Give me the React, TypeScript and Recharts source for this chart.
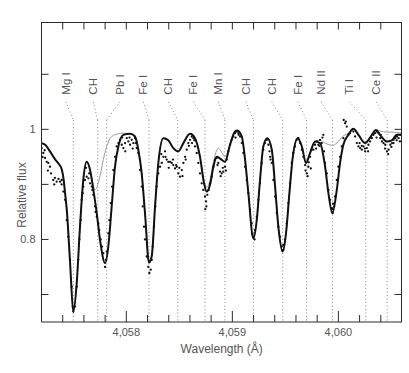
import React from 'react';
import { ComposedChart, Line, Scatter, XAxis, YAxis, ReferenceLine, ReferenceDot } from 'recharts';

const FONT = '"Liberation Sans", Arial, Helvetica, sans-serif';
const INK = '#2a2a2a';
const TEXT = '#555';

// observed spectrum: [wavelength (Å), relative flux]
const observed: [number, number][] = [
  [4057.202, 0.966], [4057.217, 0.957], [4057.233, 0.948], [4057.249, 0.941], [4057.264, 0.939], [4057.28, 0.932],
  [4057.311, 0.908], [4057.327, 0.912], [4057.343, 0.905], [4057.375, 0.905], [4057.391, 0.908], [4057.406, 0.887],
  [4057.422, 0.872], [4057.438, 0.835], [4057.453, 0.805], [4057.469, 0.763], [4057.485, 0.714], [4057.494, 0.678],
  [4057.5, 0.669], [4057.516, 0.678], [4057.532, 0.714], [4057.547, 0.763], [4057.557, 0.8], [4057.57, 0.835],
  [4057.579, 0.872], [4057.589, 0.884], [4057.594, 0.896], [4057.61, 0.908], [4057.626, 0.914], [4057.642, 0.911],
  [4057.658, 0.902], [4057.674, 0.896], [4057.689, 0.881], [4057.705, 0.86], [4057.721, 0.841], [4057.736, 0.829],
  [4057.745, 0.817], [4057.758, 0.8], [4057.771, 0.787], [4057.783, 0.775], [4057.799, 0.75], [4057.808, 0.763],
  [4057.815, 0.778], [4057.83, 0.811], [4057.84, 0.835], [4057.853, 0.866], [4057.865, 0.896], [4057.877, 0.926],
  [4057.893, 0.95], [4057.909, 0.969], [4057.925, 0.975], [4057.941, 0.981], [4057.957, 0.972], [4057.972, 0.966],
  [4057.988, 0.975], [4058.004, 0.984], [4058.019, 0.978], [4058.035, 0.972], [4058.051, 0.981], [4058.066, 0.975],
  [4058.082, 0.984], [4058.098, 0.966], [4058.113, 0.957], [4058.129, 0.926], [4058.145, 0.896], [4058.155, 0.86],
  [4058.167, 0.823], [4058.176, 0.8], [4058.192, 0.769], [4058.208, 0.75], [4058.217, 0.739], [4058.23, 0.745],
  [4058.24, 0.763], [4058.249, 0.787], [4058.261, 0.823], [4058.274, 0.86], [4058.287, 0.896], [4058.302, 0.92],
  [4058.318, 0.932], [4058.334, 0.939], [4058.349, 0.95], [4058.365, 0.96], [4058.381, 0.945], [4058.396, 0.941],
  [4058.412, 0.941], [4058.428, 0.939], [4058.443, 0.935], [4058.459, 0.929], [4058.475, 0.932], [4058.491, 0.92],
  [4058.507, 0.914], [4058.523, 0.926], [4058.538, 0.939], [4058.554, 0.95], [4058.57, 0.963], [4058.585, 0.975],
  [4058.601, 0.981], [4058.617, 0.987], [4058.632, 0.984], [4058.648, 0.969], [4058.664, 0.957], [4058.679, 0.939],
  [4058.695, 0.92], [4058.711, 0.902], [4058.726, 0.89], [4058.742, 0.878], [4058.752, 0.869], [4058.764, 0.881],
  [4058.777, 0.89], [4058.79, 0.902], [4058.806, 0.914], [4058.821, 0.932], [4058.837, 0.945], [4058.853, 0.948],
  [4058.868, 0.939], [4058.884, 0.923], [4058.9, 0.92], [4058.915, 0.923], [4058.931, 0.932], [4058.947, 0.945],
  [4058.962, 0.96], [4058.978, 0.972], [4058.994, 0.981], [4059.009, 0.987], [4059.025, 0.993], [4059.042, 0.996],
  [4059.057, 0.993], [4059.073, 0.987], [4059.089, 0.975], [4059.104, 0.957], [4059.12, 0.932], [4059.136, 0.908],
  [4059.151, 0.884], [4059.167, 0.854], [4059.183, 0.829], [4059.198, 0.805], [4059.214, 0.817], [4059.23, 0.841],
  [4059.245, 0.872], [4059.261, 0.902], [4059.277, 0.939], [4059.292, 0.963], [4059.308, 0.975], [4059.325, 0.981],
  [4059.34, 0.972], [4059.356, 0.95], [4059.372, 0.939], [4059.387, 0.908], [4059.403, 0.878], [4059.419, 0.848],
  [4059.434, 0.823], [4059.45, 0.805], [4059.466, 0.787], [4059.481, 0.781], [4059.497, 0.8], [4059.513, 0.829],
  [4059.528, 0.866], [4059.544, 0.902], [4059.56, 0.939], [4059.575, 0.957], [4059.591, 0.969], [4059.607, 0.981],
  [4059.623, 0.984], [4059.639, 0.975], [4059.655, 0.963], [4059.67, 0.95], [4059.686, 0.935], [4059.702, 0.92],
  [4059.717, 0.932], [4059.733, 0.95], [4059.74, 0.929], [4059.749, 0.963], [4059.764, 0.963], [4059.78, 0.972],
  [4059.796, 0.978], [4059.811, 0.972], [4059.827, 0.981], [4059.843, 0.975], [4059.858, 0.99], [4059.865, 0.96],
  [4059.875, 0.939], [4059.891, 0.92], [4059.906, 0.89], [4059.922, 0.872], [4059.938, 0.857], [4059.947, 0.848],
  [4059.96, 0.86], [4059.969, 0.878], [4059.985, 0.908], [4060.0, 0.932], [4060.016, 0.95], [4060.032, 0.969],
  [4060.047, 0.984], [4060.063, 1.011], [4060.079, 1.005], [4060.094, 0.99], [4060.11, 0.993], [4060.126, 0.999],
  [4060.142, 0.996], [4060.158, 0.987], [4060.174, 0.975], [4060.189, 0.969], [4060.205, 0.966], [4060.221, 0.963],
  [4060.236, 0.969], [4060.252, 0.96], [4060.268, 0.966], [4060.283, 0.972], [4060.299, 0.978], [4060.315, 0.984],
  [4060.331, 0.99], [4060.347, 0.993], [4060.363, 0.996], [4060.379, 0.993], [4060.395, 0.984], [4060.411, 0.978],
  [4060.426, 0.975], [4060.442, 0.972], [4060.458, 0.96], [4060.474, 0.963], [4060.49, 0.972], [4060.506, 0.975],
  [4060.521, 0.981], [4060.537, 0.984], [4060.553, 0.987], [4060.568, 0.984], [4060.584, 0.99],
  // scattered extra points
  [4057.21, 0.95], [4057.23, 0.962], [4057.26, 0.925], [4057.29, 0.92], [4057.32, 0.9], [4057.36, 0.91], [4057.39, 0.9],
  [4057.62, 0.93], [4057.65, 0.92], [4057.68, 0.89], [4057.71, 0.85], [4057.96, 0.985], [4057.99, 0.96],
  [4058.03, 0.985], [4058.06, 0.965], [4058.09, 0.975], [4058.33, 0.955], [4058.37, 0.95], [4058.4, 0.93],
  [4058.44, 0.945], [4058.47, 0.935], [4058.5, 0.93], [4058.53, 0.915], [4058.56, 0.945], [4058.59, 0.97],
  [4058.62, 0.975], [4058.64, 0.98], [4058.745, 0.855], [4058.755, 0.86], [4058.86, 0.935], [4058.89, 0.915],
  [4058.91, 0.93], [4058.94, 0.925], [4059.03, 0.985], [4059.06, 0.99], [4059.19, 0.81], [4059.21, 0.8],
  [4059.35, 0.96], [4059.36, 0.945], [4059.47, 0.78], [4059.48, 0.79], [4059.69, 0.925], [4059.71, 0.915],
  [4059.72, 0.94], [4059.79, 0.965], [4059.82, 0.97], [4059.85, 0.985], [4059.94, 0.855], [4059.95, 0.865],
  [4060.05, 1.017], [4060.07, 1.014], [4060.2, 0.975], [4060.22, 0.97], [4060.25, 0.965], [4060.28, 0.96],
  [4060.31, 0.985], [4060.36, 0.985], [4060.4, 0.99], [4060.44, 0.965], [4060.47, 0.955], [4060.5, 0.968],
  [4060.52, 0.975], [4060.55, 0.98], [4060.58, 0.978],
];

// synthetic spectrum, all lines
const synthFull: [number, number][] = [
  [4057.2, 0.975], [4057.235, 0.972], [4057.28, 0.96], [4057.33, 0.945], [4057.36, 0.938], [4057.39, 0.928],
  [4057.408, 0.91], [4057.422, 0.885], [4057.44, 0.85], [4057.469, 0.76], [4057.5, 0.669], [4057.532, 0.72],
  [4057.563, 0.823], [4057.594, 0.908], [4057.626, 0.941], [4057.658, 0.926], [4057.689, 0.89], [4057.721, 0.848],
  [4057.752, 0.799], [4057.8, 0.757], [4057.83, 0.787], [4057.862, 0.86], [4057.893, 0.932], [4057.925, 0.969],
  [4057.972, 0.99], [4058.035, 0.992], [4058.082, 0.987], [4058.113, 0.963], [4058.145, 0.92], [4058.176, 0.848],
  [4058.214, 0.758], [4058.24, 0.77], [4058.271, 0.86], [4058.302, 0.939], [4058.349, 0.984], [4058.396, 0.98],
  [4058.443, 0.966], [4058.49, 0.96], [4058.538, 0.975], [4058.601, 0.992], [4058.648, 0.984], [4058.695, 0.95],
  [4058.733, 0.902], [4058.758, 0.887], [4058.79, 0.9], [4058.821, 0.932], [4058.853, 0.95], [4058.884, 0.947],
  [4058.931, 0.941], [4058.978, 0.972], [4059.025, 0.996], [4059.047, 0.998], [4059.089, 0.987], [4059.12, 0.945],
  [4059.151, 0.884], [4059.198, 0.802], [4059.23, 0.835], [4059.261, 0.908], [4059.292, 0.969], [4059.33, 0.984],
  [4059.372, 0.963], [4059.403, 0.896], [4059.434, 0.823], [4059.475, 0.778], [4059.506, 0.811], [4059.538, 0.884],
  [4059.57, 0.95], [4059.617, 0.984], [4059.655, 0.969], [4059.695, 0.939], [4059.733, 0.957], [4059.78, 0.978],
  [4059.827, 0.975], [4059.875, 0.932], [4059.906, 0.884], [4059.943, 0.848], [4059.985, 0.89], [4060.016, 0.939],
  [4060.047, 0.972], [4060.094, 0.99], [4060.142, 1.001], [4060.189, 0.99], [4060.252, 0.975], [4060.299, 0.985],
  [4060.355, 0.999], [4060.393, 0.99], [4060.457, 0.978], [4060.504, 0.98], [4060.551, 0.99], [4060.6, 0.99],
];

// synthetic spectrum without Pb, Mn, Nd, Ce contributions
const synthReduced: [number, number][] = [
  [4057.2, 0.975], [4057.235, 0.972], [4057.28, 0.96], [4057.33, 0.945], [4057.36, 0.938], [4057.39, 0.928],
  [4057.408, 0.91], [4057.422, 0.885], [4057.44, 0.85], [4057.469, 0.76], [4057.5, 0.669], [4057.532, 0.72],
  [4057.563, 0.823], [4057.594, 0.908], [4057.626, 0.941], [4057.658, 0.926], [4057.689, 0.898], [4057.705, 0.89],
  [4057.752, 0.915], [4057.783, 0.945], [4057.815, 0.969], [4057.862, 0.987], [4057.925, 0.992], [4057.972, 0.993],
  [4058.035, 0.992], [4058.082, 0.987], [4058.113, 0.963], [4058.145, 0.92], [4058.176, 0.848], [4058.214, 0.758],
  [4058.24, 0.77], [4058.271, 0.86], [4058.302, 0.939], [4058.349, 0.984], [4058.396, 0.98], [4058.443, 0.966],
  [4058.49, 0.96], [4058.538, 0.975], [4058.601, 0.992], [4058.648, 0.984], [4058.695, 0.95], [4058.733, 0.905],
  [4058.758, 0.895], [4058.79, 0.908], [4058.821, 0.94], [4058.853, 0.962], [4058.87, 0.966], [4058.9, 0.958],
  [4058.931, 0.95], [4058.978, 0.972], [4059.025, 0.996], [4059.047, 0.998], [4059.089, 0.987], [4059.12, 0.945],
  [4059.151, 0.884], [4059.198, 0.802], [4059.23, 0.835], [4059.261, 0.908], [4059.292, 0.969], [4059.33, 0.984],
  [4059.372, 0.963], [4059.403, 0.896], [4059.434, 0.823], [4059.475, 0.778], [4059.506, 0.811], [4059.538, 0.884],
  [4059.57, 0.95], [4059.617, 0.984], [4059.655, 0.969], [4059.695, 0.939], [4059.733, 0.957], [4059.78, 0.978],
  [4059.827, 0.98], [4059.875, 0.975], [4059.943, 0.971], [4059.985, 0.975], [4060.016, 0.982], [4060.047, 0.988],
  [4060.094, 0.993], [4060.142, 1.001], [4060.189, 0.99], [4060.252, 0.975], [4060.299, 0.985], [4060.355, 0.999],
  [4060.393, 0.997], [4060.457, 0.995], [4060.504, 0.995], [4060.551, 0.994], [4060.6, 0.993],
];

// line identifications
const lineNames = ['Mg I', 'CH', 'Pb I', 'Fe I', 'CH', 'Fe I', 'Mn I', 'CH', 'CH', 'Fe I', 'Nd II', 'Ti I', 'Ce II'];
const lineWavelengths = [4057.5, 4057.73, 4057.815, 4058.214, 4058.485, 4058.742, 4058.93, 4059.198, 4059.475, 4059.7, 4059.945, 4060.258, 4060.46];
const labelWavelengths = [4057.43, 4057.689, 4057.94, 4058.16, 4058.396, 4058.632, 4058.868, 4059.129, 4059.372, 4059.617, 4059.837, 4060.104, 4060.356];

const xTicks = [4057.4, 4057.6, 4057.8, 4058, 4058.2, 4058.4, 4058.6, 4058.8, 4059, 4059.2, 4059.4, 4059.6, 4059.8, 4060, 4060.2, 4060.4];
const yTicks = [0.7, 0.8, 0.9, 1.0, 1.1];
const yLabelled = [0.8, 1.0];

const X_DOMAIN: [number, number] = [4057.2, 4060.6];
const Y_DOMAIN: [number, number] = [0.65, 1.195];
const LABEL_Y = 1.063;
const LEADER_TOP = 1.05;
const LEADER_BOTTOM = 1.017;

const MARGIN = { top: 22, right: 7, bottom: 11, left: 0 };

const toPoints = (arr: [number, number][]) => arr.map(([w, f]) => ({ w, f }));

const isMajor = (v: number) => Math.abs(v - Math.round(v)) < 1e-6;
const fmtWl = (v: number) => {
  const s = String(Math.round(v));
  return `${s.slice(0, 1)},${s.slice(1)}`;
};

const BottomTick = (props: any) => {
  const { x, y, payload } = props;
  const major = isMajor(payload.value);
  return (
    <g>
      <line x1={x} y1={y} x2={x} y2={y - (major ? 11 : 7)} stroke={INK} strokeWidth={1} />
      {major && (
        <text x={x} y={y + 10} textAnchor="middle" dominantBaseline="central" fontSize={11} fill={TEXT} fontFamily={FONT}>
          {fmtWl(payload.value)}
        </text>
      )}
    </g>
  );
};

const LeftTick = (props: any) => {
  const { x, y, payload } = props;
  const show = yLabelled.some((v) => Math.abs(v - payload.value) < 1e-6);
  return (
    <g>
      <line x1={x} y1={y} x2={x + 7} y2={y} stroke={INK} strokeWidth={1} />
      {show && (
        <text x={x - 6} y={y} textAnchor="end" dominantBaseline="central" fontSize={11} fill={TEXT} fontFamily={FONT}>
          {payload.value === 1 ? '1' : String(payload.value)}
        </text>
      )}
    </g>
  );
};

const Dot = (props: any) => {
  const { cx, cy } = props;
  if (cx == null || cy == null) return null;
  return <circle cx={cx} cy={cy} r={1.15} fill="#111" />;
};

const makeLabel = (name: string) => (props: any) => {
  const { cx, cy } = props;
  return (
    <text
      x={cx}
      y={cy}
      transform={`rotate(-90 ${cx} ${cy})`}
      textAnchor="start"
      dominantBaseline="central"
      fontSize={11.5}
      fill={TEXT}
      fontFamily={FONT}
    >
      {name}
    </text>
  );
};

// x-axis title; also closes the frame (top and right edges with inward ticks)
const XTitle = (p: any) => {
  const vb = p.viewBox;
  const left = vb.x;
  const right = vb.x + vb.width - 0.5;
  const top = MARGIN.top + 0.5;
  const bottom = vb.y;
  const sx = (v: number) => vb.x + ((v - X_DOMAIN[0]) / (X_DOMAIN[1] - X_DOMAIN[0])) * vb.width;
  const sy = (v: number) => bottom - ((v - Y_DOMAIN[0]) / (Y_DOMAIN[1] - Y_DOMAIN[0])) * (bottom - MARGIN.top);
  return (
    <g>
      <line x1={left} y1={top} x2={right + 0.5} y2={top} stroke={INK} strokeWidth={1} />
      <line x1={right} y1={top} x2={right} y2={bottom} stroke={INK} strokeWidth={1} />
      {xTicks.map((t) => (
        <line key={`t${t}`} x1={sx(t)} y1={top} x2={sx(t)} y2={top + 7} stroke={INK} strokeWidth={1} />
      ))}
      {yTicks.map((t) => (
        <line key={`r${t}`} x1={right} y1={sy(t)} x2={right - 7} y2={sy(t)} stroke={INK} strokeWidth={1} />
      ))}
      <text x={vb.x + vb.width / 2} y={vb.y + 27} textAnchor="middle" dominantBaseline="central" fontSize={12} fill={TEXT} fontFamily={FONT}>
        Wavelength (Å)
      </text>
    </g>
  );
};

export default function App() {
  const dotted = { stroke: '#888', strokeWidth: 1, strokeDasharray: '1 2.5' };
  return (
    <div style={{ position: 'absolute', left: 0, top: 0 }}>
      <ComposedChart width={409} height={373} margin={MARGIN}>
        <XAxis
          dataKey="w"
          type="number"
          domain={X_DOMAIN}
          allowDataOverflow
          ticks={xTicks}
          interval={0}
          tickSize={0}
          tickMargin={0}
          tickLine={false}
          tick={<BottomTick />}
          axisLine={{ stroke: INK }}
          height={40}
          label={XTitle}
        />
        <YAxis
          type="number"
          domain={Y_DOMAIN}
          allowDataOverflow
          ticks={yTicks}
          interval={0}
          width={41.5}
          tickSize={0}
          tickMargin={0}
          tickLine={false}
          tick={<LeftTick />}
          axisLine={{ stroke: INK }}
          label={(p: any) => {
            const vb = p.viewBox;
            const cx = vb.x + 21.7;
            const cy = vb.y + vb.height / 2 + 23;
            return (
              <text x={cx} y={cy} transform={`rotate(-90 ${cx} ${cy})`} textAnchor="middle" dominantBaseline="central" fontSize={12} fill={TEXT} fontFamily={FONT}>
                Relative flux
              </text>
            );
          }}
        />

        {lineWavelengths.map((w, i) => (
          <ReferenceLine
            key={`v${i}`}
            segment={[{ x: w, y: LEADER_BOTTOM }, { x: w, y: Y_DOMAIN[0] }]}
            ifOverflow="visible"
            {...dotted}
          />
        ))}
        {lineWavelengths.map((w, i) => (
          <ReferenceLine
            key={`d${i}`}
            segment={[{ x: labelWavelengths[i], y: LEADER_TOP }, { x: w, y: LEADER_BOTTOM }]}
            ifOverflow="visible"
            {...dotted}
          />
        ))}
        {lineNames.map((name, i) => (
          <ReferenceDot
            key={`l${i}`}
            x={labelWavelengths[i]}
            y={LABEL_Y}
            r={0}
            ifOverflow="visible"
            shape={makeLabel(name)}
          />
        ))}

        <Line
          data={toPoints(synthReduced)}
          dataKey="f"
          type="monotone"
          stroke="#9a9a9a"
          strokeWidth={1}
          dot={false}
          activeDot={false}
          isAnimationActive={false}
        />
        <Line
          data={toPoints(synthFull)}
          dataKey="f"
          type="monotone"
          stroke="#111"
          strokeWidth={2}
          dot={false}
          activeDot={false}
          isAnimationActive={false}
        />
        <Scatter data={toPoints(observed)} dataKey="f" shape={<Dot />} isAnimationActive={false} />
      </ComposedChart>
    </div>
  );
}
